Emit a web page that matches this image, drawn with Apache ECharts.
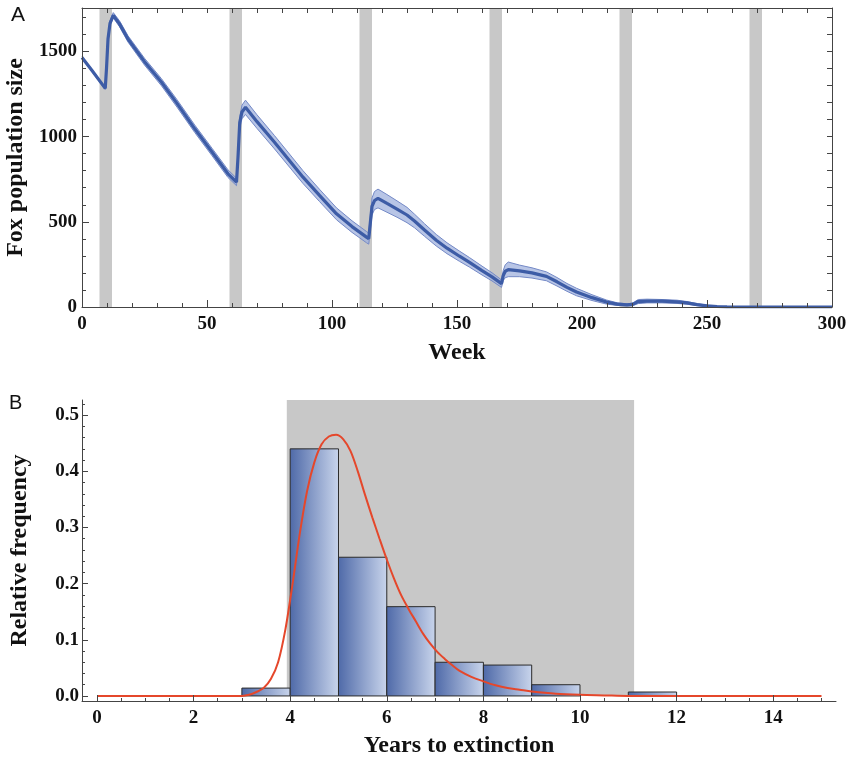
<!DOCTYPE html>
<html><head><meta charset="utf-8">
<script src="https://cdn.jsdelivr.net/npm/echarts@6/dist/echarts.min.js"></script>
<style>html,body{margin:0;padding:0;background:#fff}#c{width:850px;height:761px}</style>
</head><body><div id="c"></div>
<script>
// ---------- Panel A data ----------
const weeks    = [0,4,9.3,9.8,10.4,11.2,12.5,15,18.4,25,31.8,38,45.1,52,58.4,61.8,62.4,63.1,64,65.4,70,77,88.4,95,101.8,108,113.8,114.7,115.3,116,117,118.4,122,126,130,133,137,141.7,146,151,155,160,164,167.8,168.5,169.3,170.5,175,180,185.8,190,194,197.8,204,209.8,214,218,220,221,222.5,226,232,238,242,246,250,254,258,262,300];
const popMean  = [1465,1388,1283,1400,1573,1665,1712,1662,1573,1440,1319,1195,1046,910,782,733,880,1084,1145,1172,1088,967,762,655,547,472,410,401,490,590,625,638,608,575,540,505,452,392,345,298,262,214,177,137,185,210,219,212,200,180,148,115,88,55,29,17,13,15,21,32,35,34,30,24,14,7,3,1,0,0];
const popLower = [1459,1382,1276,1392,1563,1652,1697,1645,1555,1420,1298,1173,1024,888,760,712,855,1050,1105,1130,1048,928,725,619,512,438,377,369,450,540,572,582,556,527,495,465,415,358,313,268,234,188,153,115,155,172,178,178,170,154,123,92,66,38,17,9,7,8,12,20,24,24,21,16,8,3,1,0,0,0];
const popUpper = [1471,1394,1290,1410,1585,1680,1728,1680,1592,1460,1340,1217,1068,932,805,756,905,1118,1185,1214,1128,1006,800,691,582,506,443,433,532,640,678,692,660,623,585,545,489,426,377,328,290,240,201,159,215,248,264,246,230,206,173,138,110,72,41,25,19,22,30,44,46,44,40,32,20,11,5,2,0,0];
const cullStart = [7,59,111,163,215,267];
const cullEnd   = [12,64,116,168,220,272];
const weekTicks = [0,50,100,150,200,250,300];
const popTicks  = [0,500,1000,1500];

// ---------- Panel B data ----------
const binStart = [3,4,5,6,7,8,9,11];
const binEnd   = [4,5,6,7,8,9,10,12];
const binFreq  = [0.014,0.44,0.247,0.159,0.06,0.055,0.02,0.007];
const fitX = [0,3.0,3.15,3.3,3.45,3.6,3.75,3.9,4.05,4.2,4.35,4.5,4.65,4.8,4.95,5.1,5.25,5.4,5.55,5.7,5.85,6.0,6.15,6.3,6.45,6.6,6.75,6.9,7.05,7.2,7.35,7.5,7.75,8.0,8.25,8.5,8.75,9.0,9.5,10,10.5,11,12,15];
const fitY = [0,0,0.002,0.007,0.014,0.030,0.060,0.118,0.200,0.290,0.365,0.416,0.448,0.462,0.465,0.457,0.436,0.400,0.358,0.318,0.280,0.243,0.209,0.179,0.155,0.133,0.111,0.093,0.078,0.066,0.055,0.045,0.034,0.026,0.019,0.014,0.011,0.008,0.004,0.002,0.001,0,0,0];
const shadeRange = [3.93, 11.12, 0.527];
const yearTicks = [0,2,4,6,8,10,12,14];
const freqTicks = [0,0.1,0.2,0.3,0.4,0.5];

// minor tick positions
const range = (a,b,s)=>{const r=[];for(let v=a;v<=b+1e-9;v+=s)r.push(+v.toFixed(4));return r;};
const weekMinor = range(0,300,10);
const popMinor  = range(0,1700,100);
const yearMinor = range(0,15,0.5);
const freqMinor = range(0,0.52,0.02);

const serif = '"Liberation Serif", "DejaVu Serif", serif';
const lab = {fontFamily: serif, fontWeight:'bold', fontSize:19, color:'#111'};
const nm  = {fontFamily: serif, fontWeight:'bold', fontSize:24, color:'#111'};
const lineC = '#444';

const chart = echarts.init(document.getElementById('c'), null, {renderer:'canvas'});

const option = {
  animation:false,
  backgroundColor:'#fff',
  grid:[
    {left:82, right:18, top:8, height:299, containLabel:false, outerBoundsMode:'none'},
    {left:82, right:14, top:400, height:301, containLabel:false, outerBoundsMode:'none'}
  ],
  xAxis:[
    {gridIndex:0, type:'value', min:0, max:300, position:'bottom', z:10,
     axisLine:{onZero:false, lineStyle:{color:lineC}},
     axisTick:{inside:true, length:7, customValues:weekTicks, lineStyle:{color:lineC}},
     axisLabel:{customValues:weekTicks, margin:8, formatter:v=>String(v), ...lab},
     splitLine:{show:false},
     name:'Week', nameLocation:'middle', nameGap:34, nameTextStyle:nm},
    {gridIndex:0, type:'value', min:0, max:300, position:'bottom', z:10,
     axisLine:{show:false, onZero:false},
     axisTick:{inside:true, length:4, customValues:weekMinor, lineStyle:{color:lineC}},
     axisLabel:{show:false}, splitLine:{show:false}},
    {gridIndex:0, type:'value', min:0, max:300, position:'top', z:10,
     axisLine:{onZero:false, lineStyle:{color:lineC}},
     axisTick:{inside:true, length:5, customValues:weekMinor, lineStyle:{color:lineC}},
     axisLabel:{show:false}, splitLine:{show:false}},
    {gridIndex:1, type:'value', min:-0.31, max:15.3, position:'bottom', z:10,
     axisLine:{onZero:false, lineStyle:{color:lineC}},
     axisTick:{inside:true, length:6, customValues:yearTicks, lineStyle:{color:lineC}},
     axisLabel:{customValues:yearTicks, margin:8, formatter:v=>String(v), ...lab},
     splitLine:{show:false},
     name:'Years to extinction', nameLocation:'middle', nameGap:33, nameTextStyle:nm},
    {gridIndex:1, type:'value', min:-0.31, max:15.3, position:'bottom', z:10,
     axisLine:{show:false, onZero:false},
     axisTick:{inside:true, length:3, customValues:yearMinor, lineStyle:{color:lineC}},
     axisLabel:{show:false}, splitLine:{show:false}}
  ],
  yAxis:[
    {gridIndex:0, type:'value', min:0, max:1755, position:'left', z:10,
     axisLine:{show:true, onZero:false, lineStyle:{color:lineC}},
     axisTick:{show:true, inside:true, length:7, customValues:popTicks, lineStyle:{color:lineC}},
     axisLabel:{customValues:popTicks, margin:5, formatter:v=>String(v), ...lab},
     splitLine:{show:false},
     name:'Fox population size', nameLocation:'middle', nameGap:48, nameTextStyle:nm},
    {gridIndex:0, type:'value', min:0, max:1755, position:'left', z:10,
     axisLine:{show:false, onZero:false},
     axisTick:{show:true, inside:true, length:4, customValues:popMinor, lineStyle:{color:lineC}},
     axisLabel:{show:false}, splitLine:{show:false}},
    {gridIndex:0, type:'value', min:0, max:1755, position:'right', z:10,
     axisLine:{show:true, onZero:false, lineStyle:{color:lineC}},
     axisTick:{show:true, inside:true, length:5, customValues:popMinor, lineStyle:{color:lineC}},
     axisLabel:{show:false}, splitLine:{show:false}},
    {gridIndex:1, type:'value', min:-0.009, max:0.527, position:'left', z:10,
     axisLine:{show:true, onZero:false, lineStyle:{color:lineC}},
     axisTick:{show:true, inside:true, length:6, customValues:freqTicks, lineStyle:{color:lineC}},
     axisLabel:{customValues:freqTicks, margin:3, formatter:v=>(+v).toFixed(1), ...lab},
     splitLine:{show:false},
     name:'Relative frequency', nameLocation:'middle', nameGap:50, nameTextStyle:nm},
    {gridIndex:1, type:'value', min:-0.009, max:0.527, position:'left', z:10,
     axisLine:{show:false, onZero:false},
     axisTick:{show:true, inside:true, length:3, customValues:freqMinor, lineStyle:{color:lineC}},
     axisLabel:{show:false}, splitLine:{show:false}}
  ],
  graphic:[
    {type:'text', left:11, top:5, style:{text:'A', font:'21px "Liberation Sans", Arial, sans-serif', fill:'#111'}},
    {type:'text', left:9, top:393, style:{text:'B', font:'20px "Liberation Sans", Arial, sans-serif', fill:'#111'}}
  ],
  series:[
    // Panel A: culling periods
    {type:'custom', xAxisIndex:0, yAxisIndex:0, silent:true, z:1,
     data: cullStart.map((s,i)=>[s, cullEnd[i]]),
     encode:{x:[0,1]},
     renderItem:(params, api)=>{
       const a = api.coord([api.value(0), 0]);
       const b = api.coord([api.value(1), 0]);
       const cs = params.coordSys;
       return {type:'rect', shape:{x:a[0], y:cs.y, width:b[0]-a[0], height:cs.height}, style:{fill:'#c8c8c8'}};
     }},
    // Panel A: confidence band
    {type:'custom', xAxisIndex:0, yAxisIndex:0, silent:true, z:2,
     data:[[0,0]],
     renderItem:(params, api)=>{
       const pts=[];
       for(let i=0;i<weeks.length;i++) pts.push(api.coord([weeks[i], popUpper[i]]));
       for(let i=weeks.length-1;i>=0;i--) pts.push(api.coord([weeks[i], popLower[i]]));
       return {type:'polygon', shape:{points:pts}, style:{fill:'rgba(160,178,222,0.75)'}};
     }},
    {type:'line', xAxisIndex:0, yAxisIndex:0, silent:true, z:3, showSymbol:false,
     data: weeks.map((w,i)=>[w, popUpper[i]]), lineStyle:{color:'#7489c6', width:1}},
    {type:'line', xAxisIndex:0, yAxisIndex:0, silent:true, z:3, showSymbol:false,
     data: weeks.map((w,i)=>[w, popLower[i]]), lineStyle:{color:'#7489c6', width:1}},
    {type:'line', xAxisIndex:0, yAxisIndex:0, silent:true, z:4, showSymbol:false,
     data: weeks.map((w,i)=>[w, popMean[i]]), lineStyle:{color:'#3d5ca6', width:3.2}},
    // Panel B: shaded range
    {type:'custom', xAxisIndex:3, yAxisIndex:3, silent:true, z:1,
     data:[shadeRange], encode:{x:[0,1], y:2},
     renderItem:(params, api)=>{
       const a = api.coord([api.value(0), api.value(2)]);
       const b = api.coord([api.value(1), 0]);
       return {type:'rect', shape:{x:a[0], y:a[1], width:b[0]-a[0], height:b[1]-a[1]}, style:{fill:'#c8c8c8'}};
     }},
    // Panel B: histogram
    {type:'custom', xAxisIndex:3, yAxisIndex:3, silent:true, z:2,
     data: binStart.map((s,i)=>[s, binEnd[i], binFreq[i]]), encode:{x:[0,1], y:2},
     renderItem:(params, api)=>{
       const a = api.coord([api.value(0), api.value(2)]);
       const b = api.coord([api.value(1), 0]);
       return {type:'rect', shape:{x:a[0], y:a[1], width:b[0]-a[0], height:b[1]-a[1]},
         style:{fill:new echarts.graphic.LinearGradient(0,0,1,0,[{offset:0,color:'#4e69a8'},{offset:1,color:'#c9d5ec'}]),
                stroke:'#2b2b2b', lineWidth:1}};
     }},
    // Panel B: fitted curve
    {type:'line', xAxisIndex:3, yAxisIndex:3, silent:true, z:5, showSymbol:false, smooth:0.3,
     data: fitX.map((x,i)=>[x, fitY[i]]), lineStyle:{color:'#e5472b', width:2}}
  ]
};
chart.setOption(option);
</script>
</body></html>
